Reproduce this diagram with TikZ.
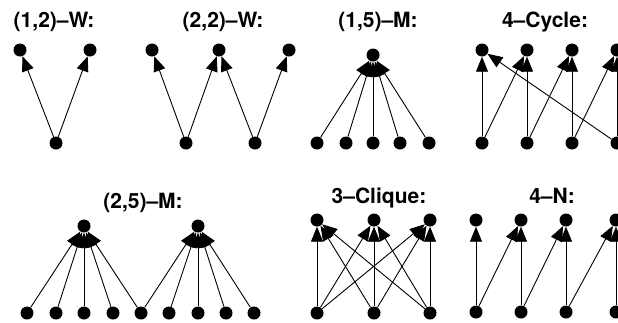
\documentclass[tikz,border=0pt]{standalone}
\usepackage{fontspec}
\setmainfont{TeX Gyre Heros}
\usetikzlibrary{arrows.meta}
\begin{document}
\begin{tikzpicture}[x=1pt,y=-1pt,
  dot/.style={circle,fill=black,inner sep=0pt,minimum size=13pt},
  arr/.style={-{Triangle[length=15pt,width=12pt]},line width=0.9pt},
  title/.style={anchor=base,inner sep=0pt,font=\fontsize{21}{22}\selectfont\bfseries}]
\useasboundingbox (0,0) rectangle (618,322);
\clip (0,0) rectangle (618,322);

% (1,2)-W
\node[title] (l1) at (54,27) {(1,2)–W:};
\node[dot] (a1) at (20,50) {};
\node[dot] (a2) at (90,50) {};
\node[dot] (a3) at (56,143) {};
\draw[arr] (a3) -- (a1);
\draw[arr] (a3) -- (a2);

% (2,2)-W
\node[title] (l2) at (223,27) {(2,2)–W:};
\node[dot] (b1) at (152,50) {};
\node[dot] (b2) at (219,50) {};
\node[dot] (b3) at (289,50) {};
\node[dot] (b4) at (186,143) {};
\node[dot] (b5) at (255,143) {};
\draw[arr] (b4) -- (b1);
\draw[arr] (b4) -- (b2);
\draw[arr] (b5) -- (b2);
\draw[arr] (b5) -- (b3);

% (1,5)-M
\node[title] (l3) at (378,27) {(1,5)–M:};
\node[dot] (c0) at (373,55) {};
\foreach \i/\x in {1/317,2/346,3/373,4/400,5/429}{
  \node[dot] (c\i) at (\x,143) {};
  \draw[arr] (c\i) -- (c0);
}

% 4-Cycle
\node[title] (l4) at (545,27) {4–Cycle:};
\foreach \i/\x in {1/482,2/527,3/572,4/617}{
  \node[dot] (dt\i) at (\x,50) {};
  \node[dot] (db\i) at (\x,143) {};
}
\foreach \i in {1,...,4}{ \draw[arr] (db\i) -- (dt\i); }
\draw[arr] (db1) -- (dt2);
\draw[arr] (db2) -- (dt3);
\draw[arr] (db3) -- (dt4);
\draw[arr] (db4) -- (dt1);

% (2,5)-M
\node[title] (l5) at (143,208) {(2,5)–M:};
\node[dot] (e0) at (84,226) {};
\node[dot] (f0) at (198,226) {};
\foreach \i/\x in {1/27,2/56,3/84,4/113,5/141,6/169,7/198,8/226,9/254}{
  \node[dot] (e\i) at (\x,313) {};
}
\foreach \i in {1,...,5}{ \draw[arr] (e\i) -- (e0); }
\foreach \i in {5,...,9}{ \draw[arr] (e\i) -- (f0); }

% 3-Clique
\node[title] (l6) at (379,203) {3–Clique:};
\foreach \i/\x in {1/317,2/374,3/430}{
  \node[dot] (gt\i) at (\x,220) {};
  \node[dot] (gb\i) at (\x,313) {};
}
\foreach \i in {1,2,3}{
  \foreach \j in {1,2,3}{ \draw[arr] (gb\i) -- (gt\j); }
}

% 4-N
\node[title] (l7) at (552,203) {4–N:};
\foreach \i/\x in {1/476,2/521,3/566,4/616}{
  \node[dot] (ht\i) at (\x,220) {};
  \node[dot] (hb\i) at (\x,312) {};
}
\foreach \i in {1,...,4}{ \draw[arr] (hb\i) -- (ht\i); }
\draw[arr] (hb1) -- (ht2);
\draw[arr] (hb2) -- (ht3);
\draw[arr] (hb3) -- (ht4);
\end{tikzpicture}
\end{document}
